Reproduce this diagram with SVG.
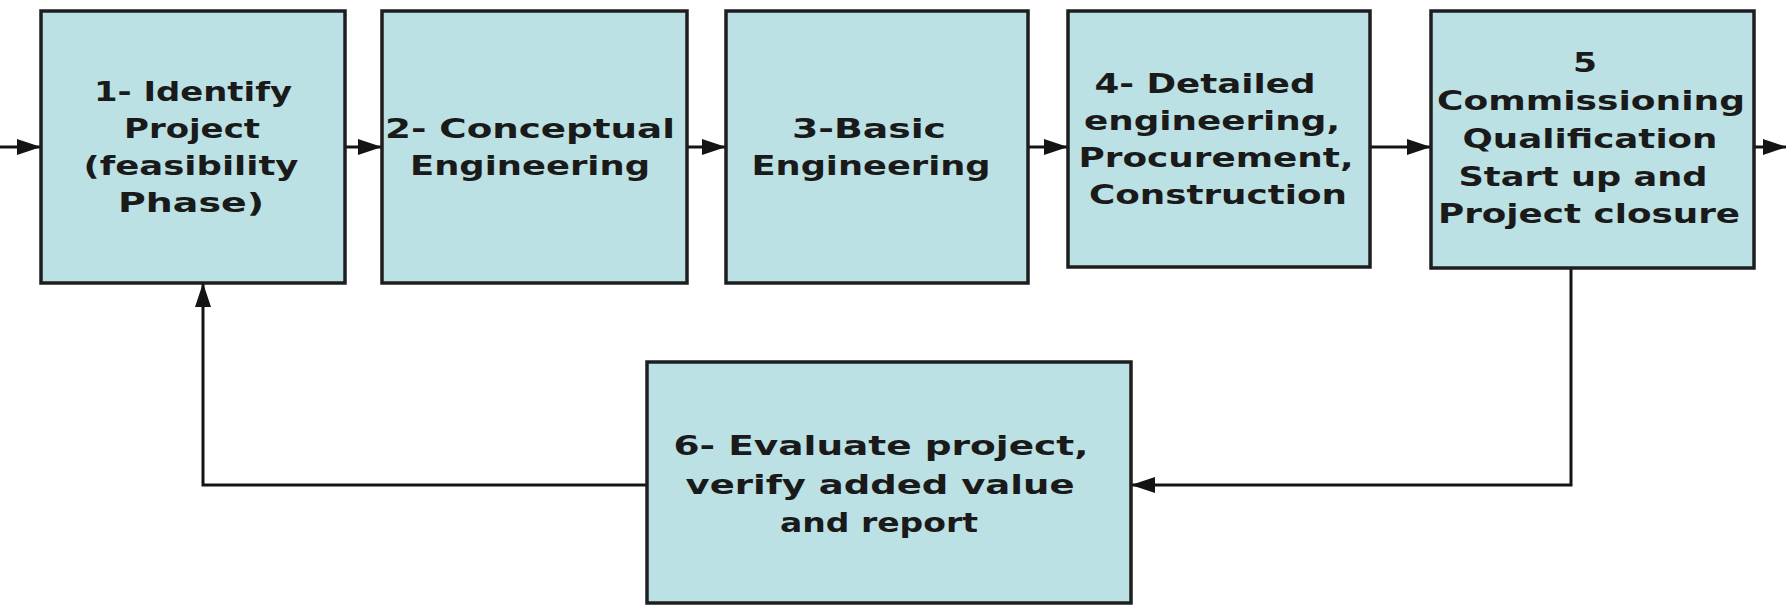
<svg xmlns="http://www.w3.org/2000/svg" width="1786" height="605" viewBox="0 0 1786 605">
<defs>
<style>
.box{fill:#bce1e4;stroke:#1e1e1e;stroke-width:3.5}
.lbl{font-family:"DejaVu Sans","Liberation Sans",sans-serif;font-size:27px;font-weight:bold;fill:#1a1a1a;text-anchor:middle}
.con{fill:none;stroke:#141414;stroke-width:3}
</style>
<marker id="ah" markerUnits="userSpaceOnUse" markerWidth="24" markerHeight="18" viewBox="0 0 24 18" refX="23" refY="9" orient="auto">
<path d="M0,1 L24,9 L0,17 z" fill="#141414"/>
</marker>
</defs>
<rect width="1786" height="605" fill="#ffffff"/>
<g id="connectors">
<line class="con" x1="0" y1="147" x2="40" y2="147" marker-end="url(#ah)"/>
<line class="con" x1="345" y1="147" x2="381" y2="147" marker-end="url(#ah)"/>
<line class="con" x1="687" y1="147" x2="725" y2="147" marker-end="url(#ah)"/>
<line class="con" x1="1028" y1="147" x2="1067" y2="147" marker-end="url(#ah)"/>
<line class="con" x1="1370" y1="147" x2="1430" y2="147" marker-end="url(#ah)"/>
<line class="con" x1="1754" y1="147" x2="1786" y2="147" marker-end="url(#ah)"/>
<polyline class="con" points="1571,268 1571,485 1132,485" marker-end="url(#ah)"/>
<polyline class="con" points="647,485 203,485 203,284" marker-end="url(#ah)"/>
</g>
<g id="node1">
<rect class="box" x="41" y="11" width="304" height="272"/>
<text class="lbl" x="193" y="101" textLength="198" lengthAdjust="spacingAndGlyphs">1- Identify</text>
<text class="lbl" x="192" y="138" textLength="136" lengthAdjust="spacingAndGlyphs">Project</text>
<text class="lbl" x="191" y="175" textLength="215" lengthAdjust="spacingAndGlyphs">(feasibility</text>
<text class="lbl" x="191" y="212" textLength="146" lengthAdjust="spacingAndGlyphs">Phase)</text>
</g>
<g id="node2">
<rect class="box" x="382" y="11" width="305" height="272"/>
<text class="lbl" x="530" y="138" textLength="290" lengthAdjust="spacingAndGlyphs">2- Conceptual</text>
<text class="lbl" x="530" y="175" textLength="240" lengthAdjust="spacingAndGlyphs">Engineering</text>
</g>
<g id="node3">
<rect class="box" x="726" y="11" width="302" height="272"/>
<text class="lbl" x="869" y="138" textLength="154" lengthAdjust="spacingAndGlyphs">3-Basic</text>
<text class="lbl" x="871" y="175" textLength="239" lengthAdjust="spacingAndGlyphs">Engineering</text>
</g>
<g id="node4">
<rect class="box" x="1068" y="11" width="302" height="256"/>
<text class="lbl" x="1205" y="93" textLength="221" lengthAdjust="spacingAndGlyphs">4- Detailed</text>
<text class="lbl" x="1212" y="130" textLength="256" lengthAdjust="spacingAndGlyphs">engineering,</text>
<text class="lbl" x="1216" y="167" textLength="275" lengthAdjust="spacingAndGlyphs">Procurement,</text>
<text class="lbl" x="1218" y="204" textLength="258" lengthAdjust="spacingAndGlyphs">Construction</text>
</g>
<g id="node5">
<rect class="box" x="1431" y="11" width="323" height="257"/>
<text class="lbl" x="1585" y="72" textLength="24" lengthAdjust="spacingAndGlyphs">5</text>
<text class="lbl" x="1591" y="110" textLength="308" lengthAdjust="spacingAndGlyphs">Commissioning</text>
<text class="lbl" x="1590" y="148" textLength="255" lengthAdjust="spacingAndGlyphs">Qualification</text>
<text class="lbl" x="1583" y="186" textLength="249" lengthAdjust="spacingAndGlyphs">Start up and</text>
<text class="lbl" x="1589" y="223" textLength="302" lengthAdjust="spacingAndGlyphs">Project closure</text>
</g>
<g id="node6">
<rect class="box" x="647" y="362" width="484" height="241"/>
<text class="lbl" x="881" y="455" textLength="415" lengthAdjust="spacingAndGlyphs">6- Evaluate project,</text>
<text class="lbl" x="880" y="494" textLength="389" lengthAdjust="spacingAndGlyphs">verify added value</text>
<text class="lbl" x="879" y="532" textLength="198" lengthAdjust="spacingAndGlyphs">and report</text>
</g>
</svg>
